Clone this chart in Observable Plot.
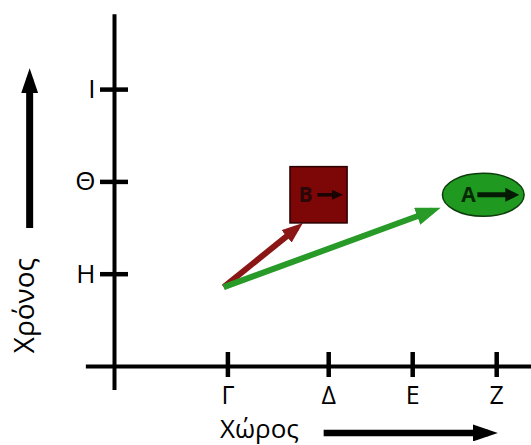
<!DOCTYPE html>
<html>
<head>
<meta charset="utf-8">
<script src="https://cdn.jsdelivr.net/npm/d3@7"></script>
<script src="https://cdn.jsdelivr.net/npm/@observablehq/plot@0.6"></script>
<style>
  html, body { margin: 0; padding: 0; background: #fff; }
  #chart svg { display: block; }
</style>
</head>
<body>
<div id="chart"></div>
<script>
// ---- data ----
const spaceTicks = ["Γ", "Δ", "Ε", "Ζ"];        // x tick labels (space)
const spaceValues = [2.7, 5.1, 7.1, 9.1];       // x tick positions
const timeTicks = ["Η", "Θ", "Ι"];               // y tick labels (time)
const timeValues = [1, 2, 3];                    // y tick positions

const bodies = ["Β", "Α"];                       // the two moving bodies
const bodyX = [4.87, 8.78];
const bodyY = [1.86, 1.86];
const bodyLabelX = [4.55, 8.43];
const bodyArrowStartX = [4.83, 8.64];
const bodyArrowEndX = [5.35, 9.52];

const eventStartX = [2.6, 2.6];                  // common starting event
const eventStartY = [0.86, 0.86];
const eventEndX = [4.34, 7.58];                  // world-line arrow ends
const eventEndY = [1.50, 1.69];

const squareX1 = [4.19], squareX2 = [5.55];      // body Β box
const squareY1 = [1.55], squareY2 = [2.16];

const axisXLabel = ["Χώρος"], axisXLabelX = [3.45], axisXLabelY = [-0.685];
const axisXArrowX1 = [4.98], axisXArrowX2 = [8.9], axisXArrowY = [-0.72];
const axisYLabel = ["Χρόνος"], axisYLabelX = [-2.12], axisYLabelY = [0.66];
const axisYArrowX = [-2.02], axisYArrowY1 = [1.5], axisYArrowY2 = [3.12];

const frameX = [0], frameY1 = [-0.26], frameY2 = [3.81];
const baseY = [0], baseX1 = [-0.67], baseX2 = [10.2];

// ---- helpers ----
const idx = (arr) => arr.map((_, i) => i);

// filled triangular arrow head, sized in pixels
function head(len, wid, sw) {
  return (color) => {
    const m = d3.create("svg:marker")
      .attr("viewBox", "0 -5 10 10")
      .attr("refX", 10 * (1 - sw / wid))
      .attr("refY", 0)
      .attr("markerUnits", "userSpaceOnUse")
      .attr("markerWidth", len)
      .attr("markerHeight", wid)
      .attr("preserveAspectRatio", "none")
      .attr("orient", "auto")
      .attr("fill", color)
      .attr("stroke", "none");
    m.append("path").attr("d", "M0,-5L10,0L0,5Z");
    return m.node();
  };
}

// ellipse symbol
const ellipseSymbol = {
  draw(ctx, size) {
    const r = Math.sqrt(size / Math.PI);
    const rx = r * 1.9, ry = r, k = 0.5523;
    ctx.moveTo(rx, 0);
    ctx.bezierCurveTo(rx, k * ry, k * rx, ry, 0, ry);
    ctx.bezierCurveTo(-k * rx, ry, -rx, k * ry, -rx, 0);
    ctx.bezierCurveTo(-rx, -k * ry, -k * rx, -ry, 0, -ry);
    ctx.bezierCurveTo(k * rx, -ry, rx, -k * ry, rx, 0);
    ctx.closePath();
  }
};

const FONT = "'Open Sans', 'DejaVu Sans', sans-serif";

const chart = Plot.plot({
  width: 531,
  height: 445,
  marginLeft: 128,
  marginRight: 0,
  marginTop: 0,
  marginBottom: 93,
  x: {domain: [0, 10], range: [114, 534]},
  y: {domain: [0, 3], range: [366, 89.1]},
  style: {fontFamily: FONT, background: "white", color: "black", overflow: "visible"},
  marks: [
    // main axes lines
    Plot.ruleX(idx(frameX), {x: (i) => frameX[i], y1: (i) => frameY1[i], y2: (i) => frameY2[i], stroke: "black", strokeWidth: 4}),
    Plot.ruleY(idx(baseY), {y: (i) => baseY[i], x1: (i) => baseX1[i], x2: (i) => baseX2[i], stroke: "black", strokeWidth: 4}),
    // tick marks & labels
    Plot.axisX(spaceValues, {
      anchor: "bottom", tickSize: 25, tickPadding: 9, strokeWidth: 4.5, stroke: "black",
      fontSize: 25, fill: "black", label: null,
      tickFormat: (d) => spaceTicks[spaceValues.indexOf(d)]
    }),
    Plot.axisY(timeValues, {
      anchor: "left", tickSize: 28, tickPadding: 5, strokeWidth: 4.5, stroke: "black",
      fontSize: 26, fill: "black", label: null,
      tickFormat: (d) => timeTicks[timeValues.indexOf(d)]
    }),
    // world lines
    Plot.link([0], {
      x1: (i) => eventStartX[i], y1: (i) => eventStartY[i], x2: (i) => eventEndX[i], y2: (i) => eventEndY[i],
      stroke: "#8a1616", strokeWidth: 6, markerEnd: head(21, 16, 6)
    }),
    Plot.link([1], {
      x1: (i) => eventStartX[i], y1: (i) => eventStartY[i], x2: (i) => eventEndX[i], y2: (i) => eventEndY[i],
      stroke: "#279a27", strokeWidth: 6, markerEnd: head(25, 18, 6)
    }),
    // body B (square)
    Plot.rect([0], {
      x1: (i) => squareX1[i], x2: (i) => squareX2[i], y1: (i) => squareY1[i], y2: (i) => squareY2[i],
      fill: "#7d0707", stroke: "#2a0000", strokeWidth: 1.5
    }),
    // body A (ellipse)
    Plot.dot([1], {
      x: (i) => bodyX[i], y: (i) => bodyY[i], r: 21.5, symbol: ellipseSymbol,
      fill: "#1f991f", stroke: "#0d3d0d", strokeWidth: 1.5
    }),
    // body labels
    Plot.text(idx(bodies), {
      x: (i) => bodyLabelX[i], y: (i) => bodyY[i], text: (i) => bodies[i],
      fontSize: 21, fontWeight: "bold", fill: (i) => (i === 0 ? "#2a0808" : "#062a06")
    }),
    Plot.link([0], {
      x1: (i) => bodyArrowStartX[i], x2: (i) => bodyArrowEndX[i], y1: (i) => bodyY[i], y2: (i) => bodyY[i],
      stroke: "#1a0303", strokeWidth: 3.5, markerEnd: head(11, 10, 3.5)
    }),
    Plot.link([1], {
      x1: (i) => bodyArrowStartX[i], x2: (i) => bodyArrowEndX[i], y1: (i) => bodyY[i], y2: (i) => bodyY[i],
      stroke: "#041a04", strokeWidth: 5, markerEnd: head(14, 14, 5)
    }),
    // axis titles with arrows
    Plot.text(idx(axisXLabel), {
      x: (i) => axisXLabelX[i], y: (i) => axisXLabelY[i], text: (i) => axisXLabel[i],
      fontSize: 26, fill: "black"
    }),
    Plot.link(idx(axisXArrowX1), {
      x1: (i) => axisXArrowX1[i], x2: (i) => axisXArrowX2[i], y1: (i) => axisXArrowY[i], y2: (i) => axisXArrowY[i],
      stroke: "black", strokeWidth: 6.5, markerEnd: head(25, 17, 6.5)
    }),
    Plot.text(idx(axisYLabel), {
      x: (i) => axisYLabelX[i], y: (i) => axisYLabelY[i], text: (i) => axisYLabel[i],
      fontSize: 28, rotate: -90, fill: "black"
    }),
    Plot.link(idx(axisYArrowX), {
      x1: (i) => axisYArrowX[i], x2: (i) => axisYArrowX[i], y1: (i) => axisYArrowY1[i], y2: (i) => axisYArrowY2[i],
      stroke: "black", strokeWidth: 7, markerEnd: head(25, 17, 7)
    })
  ]
});

document.getElementById("chart").append(chart);
</script>
</body>
</html>
